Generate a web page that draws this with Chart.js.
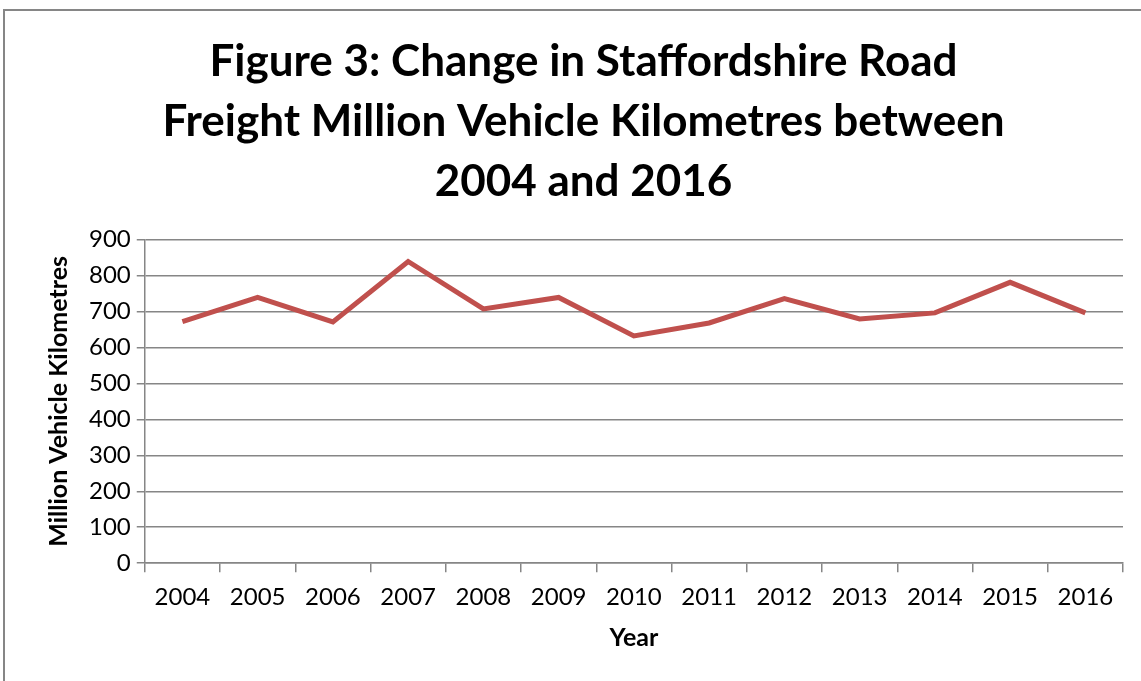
<!DOCTYPE html>
<html>
<head>
<meta charset="utf-8">
<script src="https://cdn.jsdelivr.net/npm/chart.js@4"></script>
<style>
    body { margin: 0; background: #fff; overflow: hidden; }
    #frame { position: absolute; left: 3px; top: 9px; width: 1200px; height: 700px; border: 2px solid #868686; }
    #wrap { position: absolute; left: 0; top: 0; width: 1141px; height: 681px; }
</style>
</head>
<body>
<div id="frame"></div>
<div id="wrap"><canvas id="graficoFreight"></canvas></div>
<script>
const years = ["2004", "2005", "2006", "2007", "2008", "2009", "2010", "2011", "2012", "2013", "2014", "2015", "2016"]
const vehicleKm = [672, 739, 671, 839, 707, 739, 632, 668, 736, 679, 696, 781, 696]
const yTicks = [0, 100, 200, 300, 400, 500, 600, 700, 800, 900]

const fuente = "Lato, 'Open Sans', sans-serif"

const dataFreight = {
    labels: years,
    datasets: [
        {
            label: "Million Vehicle Kilometres",
            data: vehicleKm,
            borderColor: "#C0504D",
            backgroundColor: "#C0504D",
            borderWidth: 5,
            pointRadius: 0,
            tension: 0,
        },
    ],
};

const configFreight = {
    type: "line",
    data: dataFreight,
    options: {
        responsive: true,
        maintainAspectRatio: false,
        animation: false,
        layout: {
            padding: { left: 44, right: 18, top: 0, bottom: 28 },
        },
        plugins: {
            legend: { display: false },
            tooltip: { enabled: false },
            title: {
                display: true,
                text: [
                    "Figure 3: Change in Staffordshire Road",
                    "Freight Million Vehicle Kilometres between",
                    "2004 and 2016",
                ],
                color: "#000",
                font: { weight: "bold", size: 44, family: fuente, lineHeight: 1.36 },
                padding: { top: 32, bottom: 28 },
            },
        },
        scales: {
            x: {
                offset: true,
                grid: {
                    offset: true,
                    drawOnChartArea: false,
                    drawTicks: true,
                    tickLength: 9,
                    color: "#868686",
                    lineWidth: 1.5,
                },
                border: { color: "#868686", width: 1.5 },
                ticks: {
                    color: "#000",
                    font: { size: 24, family: fuente },
                    padding: 11,
                    maxRotation: 0,
                },
                title: {
                    display: true,
                    text: "Year",
                    color: "#000",
                    font: { weight: "bold", size: 25, family: fuente },
                    padding: { top: 0, bottom: 0 },
                },
            },
            y: {
                min: 0,
                max: 900,
                afterBuildTicks: axis => { axis.ticks = yTicks.map(v => ({ value: v })) },
                grid: {
                    color: "#868686",
                    lineWidth: 1.5,
                    tickLength: 8,
                },
                border: { color: "#868686", width: 1.5 },
                ticks: {
                    color: "#000",
                    font: { size: 24, family: fuente },
                    padding: 6,
                },
                title: {
                    display: true,
                    text: "Million Vehicle Kilometres",
                    color: "#000",
                    font: { weight: "bold", size: 25, family: fuente },
                    padding: { top: 0, bottom: 9 },
                },
            },
        },
    },
};

const chartFreight = new Chart(
    document.getElementById("graficoFreight"),
    configFreight
);
</script>
</body>
</html>
